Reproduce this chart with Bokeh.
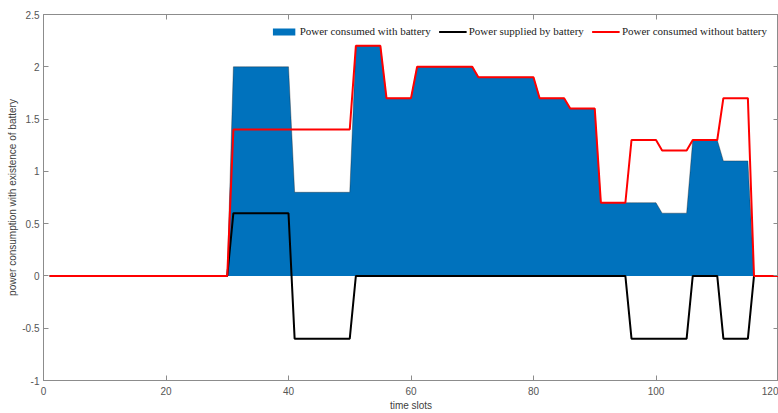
from bokeh.plotting import figure
from bokeh.models import LinearAxis, Legend, LegendItem, FixedTicker, Range1d
from bokeh.embed import file_html
from bokeh.resources import INLINE

# time slots 1..120
slots = list(range(1, 121))

# Power consumed with battery
with_battery = [
    0, 0, 0, 0, 0, 0, 0, 0, 0, 0,
    0, 0, 0, 0, 0, 0, 0, 0, 0, 0,
    0, 0, 0, 0, 0, 0, 0, 0, 0, 0,
    2.0, 2.0, 2.0, 2.0, 2.0, 2.0, 2.0, 2.0, 2.0, 2.0,
    0.8, 0.8, 0.8, 0.8, 0.8, 0.8, 0.8, 0.8, 0.8, 0.8,
    2.2, 2.2, 2.2, 2.2, 2.2, 1.7, 1.7, 1.7, 1.7, 1.7,
    2.0, 2.0, 2.0, 2.0, 2.0, 2.0, 2.0, 2.0, 2.0, 2.0,
    1.9, 1.9, 1.9, 1.9, 1.9, 1.9, 1.9, 1.9, 1.9, 1.9,
    1.7, 1.7, 1.7, 1.7, 1.7, 1.6, 1.6, 1.6, 1.6, 1.6,
    0.7, 0.7, 0.7, 0.7, 0.7, 0.7, 0.7, 0.7, 0.7, 0.7,
    0.6, 0.6, 0.6, 0.6, 0.6, 1.3, 1.3, 1.3, 1.3, 1.3,
    1.1, 1.1, 1.1, 1.1, 1.1, 0, 0, 0, 0, 0,
]

# Power supplied by battery
supplied = [
    0, 0, 0, 0, 0, 0, 0, 0, 0, 0,
    0, 0, 0, 0, 0, 0, 0, 0, 0, 0,
    0, 0, 0, 0, 0, 0, 0, 0, 0, 0,
    0.6, 0.6, 0.6, 0.6, 0.6, 0.6, 0.6, 0.6, 0.6, 0.6,
    -0.6, -0.6, -0.6, -0.6, -0.6, -0.6, -0.6, -0.6, -0.6, -0.6,
    0, 0, 0, 0, 0, 0, 0, 0, 0, 0,
    0, 0, 0, 0, 0, 0, 0, 0, 0, 0,
    0, 0, 0, 0, 0, 0, 0, 0, 0, 0,
    0, 0, 0, 0, 0, 0, 0, 0, 0, 0,
    0, 0, 0, 0, 0, -0.6, -0.6, -0.6, -0.6, -0.6,
    -0.6, -0.6, -0.6, -0.6, -0.6, 0, 0, 0, 0, 0,
    -0.6, -0.6, -0.6, -0.6, -0.6, 0, 0, 0, 0, 0,
]

# Power consumed without battery
without_battery = [
    0, 0, 0, 0, 0, 0, 0, 0, 0, 0,
    0, 0, 0, 0, 0, 0, 0, 0, 0, 0,
    0, 0, 0, 0, 0, 0, 0, 0, 0, 0,
    1.4, 1.4, 1.4, 1.4, 1.4, 1.4, 1.4, 1.4, 1.4, 1.4,
    1.4, 1.4, 1.4, 1.4, 1.4, 1.4, 1.4, 1.4, 1.4, 1.4,
    2.2, 2.2, 2.2, 2.2, 2.2, 1.7, 1.7, 1.7, 1.7, 1.7,
    2.0, 2.0, 2.0, 2.0, 2.0, 2.0, 2.0, 2.0, 2.0, 2.0,
    1.9, 1.9, 1.9, 1.9, 1.9, 1.9, 1.9, 1.9, 1.9, 1.9,
    1.7, 1.7, 1.7, 1.7, 1.7, 1.6, 1.6, 1.6, 1.6, 1.6,
    0.7, 0.7, 0.7, 0.7, 0.7, 1.3, 1.3, 1.3, 1.3, 1.3,
    1.2, 1.2, 1.2, 1.2, 1.2, 1.3, 1.3, 1.3, 1.3, 1.3,
    1.7, 1.7, 1.7, 1.7, 1.7, 0, 0, 0, 0, 0,
]

x_ticks = [0, 20, 40, 60, 80, 100, 120]
y_ticks = [-1, -0.5, 0, 0.5, 1, 1.5, 2, 2.5]

BLUE = "#0072BD"
AXIS_GRAY = "#8c8c8c"
TEXT_GRAY = "#555555"
FONT = "Liberation Sans"

p = figure(width=778, height=413,
           x_range=Range1d(0, 120), y_range=Range1d(-1, 2.5),
           output_backend="svg", toolbar_location=None,
           min_border_left=43, min_border_right=0,
           min_border_top=14, min_border_bottom=32)

p.grid.visible = False
p.outline_line_color = AXIS_GRAY
p.outline_line_width = 1
p.background_fill_color = "white"
p.border_fill_color = "white"

area = p.varea(x=slots, y1=[0] * len(slots), y2=with_battery, fill_color=BLUE)
p.line(slots, with_battery, line_color="#1a1a1a", line_width=0.6, line_alpha=0.6)
bline = p.line(slots, supplied, line_color="black", line_width=2)
rline = p.line(slots, without_battery, line_color="#ff0000", line_width=2)

def style_axis(ax, ticks, show_labels=True):
    ax.ticker = FixedTicker(ticks=ticks)
    ax.minor_tick_line_color = None
    ax.major_tick_in = 5
    ax.major_tick_out = 0
    ax.major_tick_line_color = AXIS_GRAY
    ax.axis_line_color = AXIS_GRAY
    ax.major_label_text_font = FONT
    ax.major_label_text_color = TEXT_GRAY
    ax.major_label_text_font_size = "10px"
    ax.axis_label_text_font = FONT
    ax.axis_label_text_color = "#404040"
    ax.axis_label_text_font_size = "10px"
    ax.axis_label_text_font_style = "normal"
    if show_labels:
        ax.major_label_overrides = {v: ("%g" % v) for v in ticks}
    else:
        ax.major_label_overrides = {v: "" for v in ticks}
        ax.major_label_standoff = 0
        ax.axis_label_standoff = 0
        ax.axis_line_color = None

style_axis(p.xaxis[0], x_ticks)
style_axis(p.yaxis[0], y_ticks)
p.xaxis[0].axis_label = "time slots"
p.yaxis[0].axis_label = "power consumption with existence of battery"
p.xaxis[0].major_label_standoff = 6
p.xaxis[0].axis_label_standoff = 2
p.yaxis[0].major_label_standoff = 4
p.yaxis[0].axis_label_standoff = 1

top_ax = LinearAxis()
style_axis(top_ax, x_ticks, show_labels=False)
p.add_layout(top_ax, "above")
right_ax = LinearAxis()
style_axis(right_ax, y_ticks, show_labels=False)
p.add_layout(right_ax, "right")

legend = Legend(items=[
    LegendItem(label="Power consumed with battery", renderers=[area]),
    LegendItem(label="Power supplied by battery", renderers=[bline]),
    LegendItem(label="Power consumed without battery", renderers=[rline]),
], orientation="horizontal", location="top_right")
legend.label_text_font = "Liberation Serif"
legend.label_text_font_size = "11px"
legend.label_text_color = "#222222"
legend.glyph_width = 28
legend.glyph_height = 9
legend.label_height = 12
legend.label_standoff = 2
legend.spacing = 8
legend.padding = 3
legend.margin = 8
legend.border_line_alpha = 0
legend.background_fill_alpha = 0
p.add_layout(legend)

open("out.html", "w").write(file_html(p, INLINE))
